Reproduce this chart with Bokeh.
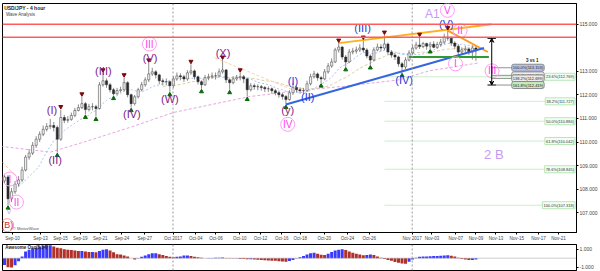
import numpy as np
import pandas as pd
from bokeh.plotting import figure
from bokeh.layouts import column
from bokeh.models import (Range1d, FixedTicker, Span, Label, Arrow, VeeHead,
                          NumeralTickFormatter)
from bokeh.core.properties import value
from bokeh.embed import file_html
from bokeh.resources import INLINE

FONT = "Liberation Sans"

# ---------------- data (8-hour bars) ----------------
first_open = 108.35
close = [108.52,107.59,107.89,108.22,108.39,108.81,109.36,109.53,109.86,110.12,
         110.33,110.54,110.66,110.70,110.62,110.12,111.04,110.92,110.96,111.13,
         111.34,111.46,111.63,111.38,111.50,111.50,111.42,112.43,112.60,112.43,
         112.22,112.05,112.18,112.22,112.52,112.01,111.63,111.92,112.22,112.43,
         112.64,112.89,112.98,112.85,112.60,112.56,112.56,112.39,112.68,112.81,
         112.77,112.68,112.94,113.02,112.77,112.56,112.43,112.73,112.77,112.81,
         112.81,112.98,113.06,112.64,112.52,112.68,112.73,112.77,112.68,112.22,
         112.39,112.35,112.35,112.31,112.26,112.26,112.18,112.09,112.01,111.93,
         111.80,112.09,112.31,112.22,112.18,112.18,112.47,112.77,112.89,112.73,
         112.68,112.98,113.23,113.40,113.91,114.03,113.61,113.40,113.82,113.86,
         113.91,113.99,113.91,113.65,113.48,113.91,114.03,113.99,114.16,113.82,
         113.69,113.61,113.32,113.19,113.48,113.78,113.99,114.12,114.05,114.18,
         114.07,114.15,114.02,114.14,114.24,114.45,114.41,114.20,114.07,113.82,
         113.91,113.95,113.82,113.99,113.87]
high = [108.65,108.60,108.05,108.35,108.55,108.95,109.45,109.70,110.00,110.25,
        110.45,110.70,110.80,110.98,110.85,110.70,111.38,111.15,111.10,111.25,
        111.45,111.60,111.92,111.70,111.62,111.65,111.58,112.55,112.94,112.70,
        112.50,112.30,112.30,112.35,112.73,112.58,112.05,112.00,112.30,112.55,
        112.75,113.36,113.15,113.05,112.90,112.70,112.70,112.60,112.80,112.95,
        112.92,112.85,113.05,113.30,113.08,112.82,112.62,112.85,112.90,112.95,
        112.95,113.12,113.48,113.10,112.70,112.80,112.85,112.94,112.85,112.72,
        112.50,112.48,112.45,112.42,112.38,112.36,112.32,112.25,112.18,112.08,
        112.00,112.20,112.52,112.40,112.32,112.30,112.60,112.90,113.02,112.95,
        112.80,113.10,113.35,113.55,114.00,114.20,114.08,113.70,113.95,114.00,
        114.05,114.15,114.33,113.98,113.72,114.02,114.18,114.15,114.54,114.22,
        113.90,113.78,113.66,113.40,113.60,113.90,114.12,114.25,114.45,114.25,
        114.22,114.25,114.28,114.25,114.38,114.60,114.73,114.48,114.28,114.15,
        114.02,114.08,114.00,114.10,114.05]
low = [108.25,107.32,107.45,107.80,108.10,108.30,108.75,109.25,109.45,109.75,
       110.00,110.25,110.45,110.55,110.45,109.55,110.05,110.80,110.82,110.90,
       111.05,111.30,111.40,111.17,111.30,111.35,111.08,111.38,112.35,112.30,
       112.10,111.97,112.00,112.10,112.15,111.90,111.46,111.55,111.85,112.15,
       112.35,112.55,112.80,112.70,112.45,112.40,112.40,112.13,112.30,112.60,
       112.62,112.55,112.60,112.85,112.65,112.45,112.26,112.38,112.62,112.68,
       112.65,112.75,112.90,112.50,112.22,112.45,112.60,112.62,112.50,111.93,
       112.15,112.22,112.20,112.18,112.12,112.12,112.05,111.98,111.88,111.80,
       111.59,111.75,112.00,112.10,112.05,112.06,112.12,112.40,112.70,112.60,
       112.50,112.62,112.90,113.15,113.35,113.80,113.50,113.19,113.35,113.72,
       113.75,113.82,113.80,113.55,113.27,113.42,113.85,113.85,113.90,113.70,
       113.58,113.48,113.20,112.94,113.10,113.42,113.70,113.92,113.95,113.98,
       113.92,113.95,113.98,113.95,114.05,114.15,114.30,114.08,113.95,113.65,
       113.72,113.80,113.70,113.50,113.45]
ao = [-0.75,-1.0,-1.05,-0.8,-0.35,0.2,0.75,0.95,1.1,1.2,
      1.3,1.35,1.45,1.45,1.3,1.15,1.1,1.0,0.95,0.9,
      0.85,0.8,0.8,0.75,0.7,0.7,0.65,0.8,0.95,1.0,
      0.85,0.65,0.45,0.4,0.3,0.2,0.0,-0.15,-0.05,0.15,
      0.3,0.45,0.55,0.55,0.45,0.35,0.25,0.15,0.1,0.15,
      0.2,0.3,0.3,0.25,0.15,0.1,0.05,0.0,0.02,0.03,
      0.05,0.05,0.08,0.03,-0.03,-0.05,-0.05,-0.08,-0.1,-0.12,
      -0.12,-0.15,-0.18,-0.2,-0.22,-0.25,-0.28,-0.3,-0.33,-0.37,
      -0.4,-0.32,-0.2,-0.05,0.1,0.25,0.4,0.55,0.6,0.5,
      0.38,0.35,0.5,0.7,0.85,0.95,1.0,0.9,0.75,0.6,
      0.5,0.4,0.32,0.35,0.42,0.35,0.2,0.05,-0.08,-0.2,
      -0.3,-0.42,-0.5,-0.58,-0.62,-0.4,-0.15,0.05,0.15,0.2,
      0.2,0.22,0.25,0.25,0.28,0.3,0.32,0.28,0.18,0.05,
      -0.08,-0.15,-0.2,-0.2,-0.15]

date_labels = ["Sep-10", "Sep-13", "Sep-15", "Sep-19", "Sep-21", "Sep-24", "Sep-27",
               "Oct 2017", "Oct-04", "Oct-06", "Oct-10", "Oct-12", "Oct-16", "Oct-18",
               "Oct-20", "Oct-24", "Oct-26", "Nov 2017", "Nov-03", "Nov-07", "Nov-09",
               "Nov-13", "Nov-15", "Nov-17", "Nov-21"]
date_pos = [2.3, 10.2, 15.9, 21.5, 27.2, 33.4, 39.9, 47.9, 54.4, 60.1, 66.9, 72.8,
            78.8, 84.1, 90.9, 97.5, 103.7, 115.9, 121.5, 128.3, 134.0, 139.7, 145.6,
            151.8, 157.5]
price_ticks = [107, 108, 109, 110, 111, 112, 113, 115]

red_levels = [115.0, 114.45]
fib_pct = ["23.6%", "38.2%", "50.0%", "61.8%", "78.6%", "100.0%"]
fib_val = [112.769, 111.727, 110.884, 110.042, 108.845, 107.318]
fib_start = 108
ext_pct = ["100.0%", "127.2%", "138.2%", "161.8%"]
ext_val = [113.153, 112.830, 112.699, 112.419]
ext_fill = ["#b9c3ea", "#ececec", "#ececec", "#c6ebbd"]
quote_val = [114.081, 113.952, 113.617, 113.383]
quote_fill = ["#c9cfe4", "#ffffff", "#a9b5ef", "#dcdcdc"]

swing_hi = [16, 22, 28, 34, 41, 53, 62, 67, 95, 102, 108, 118, 126]
swing_lo = [1, 15, 23, 26, 31, 36, 47, 56, 64, 69, 80, 90, 97, 104, 113, 121]

slow_ma_x = [-1.1, 13.0, 22.4, 36.5, 47.9, 69.7, 81.0, 98.0, 112.2, 120.7, 134.8]
slow_ma_y = [109.82, 109.57, 109.99, 110.66, 111.25, 111.93, 112.14, 112.39, 112.64, 113.02, 113.36]

orange_up = ([95, 138.5], [114.20, 115.00])
orange_dn = ([126, 137.4], [114.73, 113.82])
blue_tl = ([80, 136.3], [111.59, 113.99])
green_sup = ([115, 137.7], [113.61, 113.61])
peach_a = ([-0.6, 3.1], [109.15, 108.56])
peach_b = ([59.8, 81.9], [113.57, 112.22])
measure = (138.5, 114.40, 112.42)

purple_txt = ["(I)", "(II)", "(III)", "(IV)", "(V)", "(W)", "(X)", "(y)"]
purple_x = [13.5, 14.4, 28.1, 36.2, 41.4, 47.0, 62.1, 80.5]
purple_y = [111.38, 109.24, 113.03, 111.17, 113.56, 111.83, 113.79, 111.38]
blue_txt = ["(I)", "(II)", "(III)", "(IV)", "(V)"]
blue_x = [82.0, 86.2, 101.8, 113.6, 125.6]
blue_y = [112.57, 111.91, 114.86, 112.64, 115.03]
circ_txt = ["I", "II", "III", "IV", "V", "I", "II", "III"]
circ_x = [1.5, 3.4, 41.2, 80.5, 125.9, 128.2, 129.5, 138.6]
circ_y = [108.43, 107.45, 114.16, 110.75, 115.59, 113.32, 114.72, 113.02]

# ---------------- derived ----------------
n = len(close)
idx = np.arange(n)
opens = [first_open] + close[:-1]
c = np.array(close); o = np.array(opens)
inc = c >= o
fast_ma = pd.Series(close).rolling(10, min_periods=1).mean()
mid_ma = pd.Series(close).rolling(20, min_periods=1).mean()

XR = Range1d(-0.57, 162.6)
p = figure(width=600, height=243, x_range=XR, y_range=Range1d(106.16, 115.88),
           y_axis_location="right", output_backend="svg", toolbar_location=None,
           min_border_left=2, min_border_right=22, min_border_top=3, min_border_bottom=0,
           background_fill_color="white", border_fill_color="white")
p.outline_line_color = "#000000"
p.grid.visible = False

ax = p.yaxis[0]
ax.ticker = FixedTicker(ticks=price_ticks)
ax.formatter = NumeralTickFormatter(format="0.000")
ax.major_label_text_font = FONT
ax.major_label_text_font_size = "5px"
ax.major_tick_out = 2; ax.major_tick_in = 0; ax.minor_tick_out = 0; ax.minor_tick_in = 0
ax.major_label_standoff = 1

xa = p.xaxis[0]
xa.ticker = FixedTicker(ticks=date_pos)
xa.major_label_overrides = {pp: lab for pp, lab in zip(date_pos, date_labels)}
xa.major_label_text_font = FONT
xa.major_label_text_font_size = "4.5px"
xa.major_tick_out = 2; xa.major_tick_in = 0; xa.minor_tick_out = 0; xa.minor_tick_in = 0
xa.major_label_standoff = 1

# month separators
for pp, lab in zip(date_pos, date_labels):
    if "2017" in lab:
        p.add_layout(Span(location=pp, dimension="height", line_color="#999999",
                          line_dash="2 2", line_width=1))

# red levels
for lv in red_levels:
    p.add_layout(Span(location=lv, dimension="width", line_color="#ff5c5c", line_width=1.6))

# fib retracement
for pc, fv in zip(fib_pct, fib_val):
    p.segment(x0=fib_start, x1=XR.end, y0=fv, y1=fv, line_color="#c9f0c9", line_width=1)
p.text(x=[XR.end - 0.4] * len(fib_val), y=fib_val,
       text=[f"{pc}({fv:.3f})" for pc, fv in zip(fib_pct, fib_val)],
       text_font=value(FONT), text_font_size="4px", text_align="right",
       text_baseline="middle", text_color="#333333",
       background_fill_color="#f4fff4", border_line_color="#b8e6b8", padding=1)

# moving averages
p.line(slow_ma_x, slow_ma_y, line_color="#e7a6e0", line_dash="3 2", line_width=1)
p.line(idx[45:], mid_ma[45:], line_color="#d9cfa0", line_dash="3 2", line_width=1)
p.line(idx[3:], fast_ma[3:], line_color="#a9c4f0", line_dash="2 2", line_width=1)
p.line(*peach_a, line_color="#ffc29a", line_dash="3 2", line_width=1)
p.line(*peach_b, line_color="#ffd0a8", line_dash="3 2", line_width=1)

# candles
p.segment(x0=idx, x1=idx, y0=low, y1=high, line_color="#8c8c8c", line_width=1)
p.vbar(x=idx[inc], top=c[inc], bottom=o[inc], width=0.62, fill_color="#f2f2f2",
       line_color="#3a3a3a", line_width=0.5)
p.vbar(x=idx[~inc], top=o[~inc], bottom=c[~inc], width=0.62, fill_color="#2a2a2a",
       line_color="#2a2a2a", line_width=0.5)

# trend lines
p.line(*orange_up, line_color="#ffb020", line_width=1.8)
p.line(*orange_dn, line_color="#ff9a1a", line_width=1.8)
p.line(*blue_tl, line_color="#3566e0", line_width=2)
p.line(*green_sup, line_color="#2f9a2f", line_width=1.8)

# swing markers
hh = np.array(high); ll = np.array(low)
p.scatter(x=swing_hi, y=hh[swing_hi] + 0.12, marker="inverted_triangle", size=4,
          fill_color="#7a0a0a", line_color="#7a0a0a")
p.scatter(x=swing_lo, y=ll[swing_lo] - 0.12, marker="triangle", size=4,
          fill_color="#0a6a0a", line_color="#0a6a0a")

# measuring tool + extensions
mx, mtop, mbot = measure
p.segment(x0=[mx - 1.2, mx - 1.2], x1=[mx + 1.2, mx + 1.2], y0=[mtop, mbot], y1=[mtop, mbot],
          line_color="#000000", line_width=1)
p.add_layout(Arrow(start=VeeHead(size=4, line_color="black", line_width=1),
                   end=VeeHead(size=4, line_color="black", line_width=1),
                   x_start=mx, y_start=mtop, x_end=mx, y_end=mbot,
                   line_color="black", line_width=1))
p.segment(x0=mx, x1=mx + 6.5, y0=ext_val, y1=ext_val, line_color="#777777", line_width=0.8)
p.text(x=[mx + 10.3] * len(ext_val), y=ext_val,
       text=[f"{ep}({ev:.3f})" for ep, ev in zip(ext_pct, ext_val)],
       text_font=value(FONT), text_font_size="4px", text_align="center",
       text_baseline="middle", text_color="#222222",
       background_fill_color=ext_fill, border_line_color="#8a8a8a", padding=1, border_radius=2)
p.text(x=[mx + 11.5], y=[113.48], text=["3 vs 1"], text_font=value(FONT),
       text_font_size="4.5px", text_font_style="bold", text_align="center",
       text_baseline="middle", text_color="#222222")

# wave labels
p.text(x=purple_x, y=purple_y, text=purple_txt, text_font=value(FONT), text_font_size="11px",
       text_align="center", text_baseline="middle", text_color="#7d1a86")
p.text(x=blue_x, y=blue_y, text=blue_txt, text_font=value(FONT), text_font_size="11px",
       text_align="center", text_baseline="middle", text_color="#2a3ad8")
p.scatter(x=circ_x, y=circ_y, marker="circle", size=14, fill_color="white", fill_alpha=0.0,
          line_color="#ff9cf5", line_width=1)
p.text(x=circ_x, y=circ_y, text=circ_txt, text_font=value(FONT), text_font_size="10px",
       text_align="center", text_baseline="middle", text_color="#ff3cf0")
p.text(x=[121.6, 139.1, 1.2], y=[115.42, 109.46, 107.04], text=["A1", "2 B", "V"],
       text_font=value(FONT), text_font_size=["12px", "13px", "7px"], text_align="center",
       text_baseline="middle", text_color="#c29cf2")
p.scatter(x=[0.75], y=[106.47], marker="circle", size=13, fill_alpha=0.0,
          line_color="#ff9a9a", line_width=1)
p.text(x=[0.75], y=[106.47], text=["(B)"], text_font=value(FONT), text_font_size="9px",
       text_align="center", text_baseline="middle", text_color="#e01e1e")
p.text(x=[2.4], y=[106.31], text=["© MotiveWave"], text_font=value(FONT),
       text_font_size="4px", text_align="left", text_baseline="middle", text_color="#555555")

# titles
p.text(x=[-0.1], y=[115.80], text=["USD/JPY - 4 hour"], text_font=value(FONT),
       text_font_size="5px", text_font_style="bold", text_baseline="top", text_color="#222222")
p.text(x=[0.4], y=[115.52], text=["Wave Analysis"], text_font=value(FONT),
       text_font_size="4.5px", text_baseline="top", text_color="#444444")

# price boxes on right axis
for qv, qf in zip(quote_val, quote_fill):
    p.add_layout(Label(x=XR.end + 0.6, y=qv, text=f"{qv:.3f}", text_font=FONT,
                       text_font_size="5px", text_baseline="middle", text_align="left",
                       background_fill_color=qf, border_line_color="#7080b0",
                       text_color="#111111", padding=0))

# ---------------- oscillator ----------------
q = figure(width=600, height=28, x_range=XR, y_range=Range1d(-1.37, 1.52),
           y_axis_location="right", output_backend="svg", toolbar_location=None,
           min_border_left=2, min_border_right=22, min_border_top=1, min_border_bottom=1,
           background_fill_color="white", border_fill_color="white")
q.outline_line_color = "#000000"
q.grid.visible = False
q.xaxis.visible = False
qa = q.yaxis[0]
qa.ticker = FixedTicker(ticks=[-1, 1])
qa.formatter = NumeralTickFormatter(format="0.000")
qa.major_label_text_font = FONT
qa.major_label_text_font_size = "5px"
qa.major_tick_out = 2; qa.major_tick_in = 0; qa.minor_tick_out = 0; qa.minor_tick_in = 0
qa.major_label_standoff = 1

aoa = np.array(ao)
rising = np.concatenate([[True], aoa[1:] >= aoa[:-1]])
ao_col = np.where(rising, "#3a3aff", "#b0302a")
q.add_layout(Span(location=0, dimension="width", line_color="#9a9a9a", line_dash="1 1", line_width=1))
for pp, lab in zip(date_pos, date_labels):
    if "2017" in lab:
        q.add_layout(Span(location=pp, dimension="height", line_color="#999999",
                          line_dash="2 2", line_width=1))
q.vbar(x=idx, top=aoa, bottom=0, width=0.85, fill_color=ao_col, line_color=None)
q.text(x=[0.2], y=[1.45], text=["Awesome Osc(5,34)"], text_font=value(FONT),
       text_font_size="4.5px", text_font_style="bold", text_baseline="top", text_color="#222222")
q.add_layout(Label(x=XR.end + 0.6, y=aoa[-1], text=f"{aoa[-1]:.3f}", text_font=FONT,
                   text_font_size="5px", text_baseline="middle", text_align="left",
                   background_fill_color="white", border_line_color="#555555",
                   text_color="#111111", padding=0))

layout = column(p, q, spacing=0)
open("out.html", "w").write(file_html(layout, INLINE))
